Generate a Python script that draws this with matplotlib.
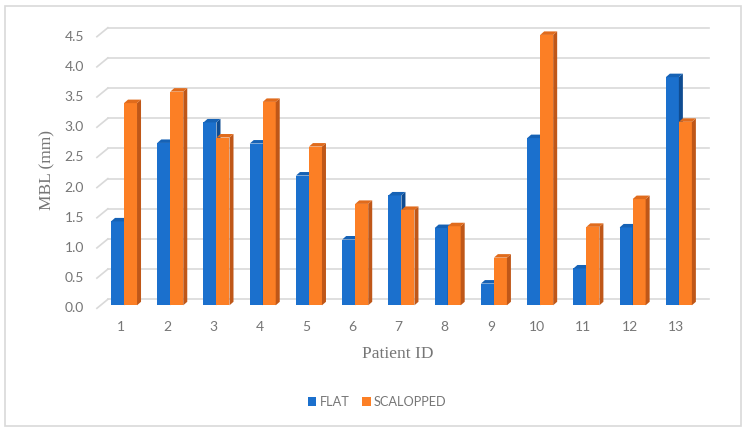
import matplotlib
matplotlib.use("Agg")
import matplotlib.pyplot as plt
from matplotlib.patches import Polygon, Rectangle
from matplotlib.lines import Line2D

patients = ["1", "2", "3", "4", "5", "6", "7", "8", "9", "10", "11", "12", "13"]
flat = [1.39, 2.69, 3.03, 2.68, 2.15, 1.09, 1.82, 1.28, 0.36, 2.77, 0.61, 1.29, 3.78]
scalopped = [3.35, 3.54, 2.78, 3.37, 2.63, 1.68, 1.58, 1.31, 0.79, 4.48, 1.30, 1.76, 3.04]
yticks = [0.0, 0.5, 1.0, 1.5, 2.0, 2.5, 3.0, 3.5, 4.0, 4.5]
series_names = ["FLAT", "SCALOPPED"]

W, H = 746, 432
DPI = 100
fig = plt.figure(figsize=(W / DPI, H / DPI), dpi=DPI)
fig.patch.set_facecolor("white")

# border
fig.add_artist(Rectangle((5 / W, 6 / H), 736 / W, 420 / H, transform=fig.transFigure,
                         fill=False, edgecolor="#D9D9D9", linewidth=1.2))

# axes = plane of bar front faces (pixels from top)
x_left_px, x_right_px = 100.9, 702.0
y0_px, ytop_px = 305.3, 33.7
ax = fig.add_axes([x_left_px / W, (H - y0_px) / H,
                   (x_right_px - x_left_px) / W, (y0_px - ytop_px) / H])
n = len(patients)
ax.set_xlim(0.5, n + 0.5)
ax.set_ylim(0, 4.5)
ax.axis("off")

px_x = (x_right_px - x_left_px) / n          # pixels per category
px_y = (y0_px - ytop_px) / 4.5               # pixels per value unit

def dx(p):
    return p / px_x

def dy(p):
    return p / px_y

grid_col = "#D9D9D9"
text_col = "#767676"
sans = ["Lato", "DejaVu Sans"]

# gridlines: front plane offset (-4, +3px down), back plane offset (+7, -6px up)
fx, fy = -4.0, -3.0
bx, by = 7.0, 6.0
for v in yticks:
    ax.add_line(Line2D([0.5 + dx(fx), 0.5 + dx(bx)], [v + dy(fy), v + dy(by)],
                       color=grid_col, lw=1.2, clip_on=False, zorder=1))
    ax.add_line(Line2D([0.5 + dx(bx), n + 0.5 + dx(bx)], [v + dy(by), v + dy(by)],
                       color=grid_col, lw=1.2, clip_on=False, zorder=1))
    ax.text(0.5 + dx(fx) - dx(13), v + dy(fy), f"{v:.1f}", ha="right", va="center",
            fontsize=10, color=text_col, family=sans)

for i, lab in enumerate(patients):
    ax.text(i + 1 + dx(-3), dy(-22), lab, ha="center", va="center",
            fontsize=10, color=text_col, family=sans)

bw = 13.0 / px_x
depx, depy = 4.0, 3.5
styles = [
    ("#1B70CD", "#0F4C91", "#1662B5"),
    ("#FC7F25", "#BF5718", "#E06B1C"),
]
xs = list(range(1, n + 1))
for s, (vals, (front, side, top)) in enumerate(zip([flat, scalopped], styles)):
    lefts = [x - bw + s * bw for x in xs]
    ax.bar(lefts, vals, width=bw, align="edge", color=front, linewidth=0, zorder=3 + s)
    for l, v in zip(lefts, vals):
        r = l + bw
        ax.add_patch(Polygon([(r, 0), (r + dx(depx), dy(depy)), (r + dx(depx), v + dy(depy)), (r, v)],
                             closed=True, facecolor=side, edgecolor="none", zorder=3 + s, clip_on=False))
        ax.add_patch(Polygon([(l, v), (r, v), (r + dx(depx), v + dy(depy)), (l + dx(depx), v + dy(depy))],
                             closed=True, facecolor=top, edgecolor="none", zorder=3 + s, clip_on=False))

serif = ["Liberation Serif", "DejaVu Serif"]
fig.text(398 / W, 1 - 354 / H, "Patient ID", ha="center", va="center",
         fontsize=12.5, color=text_col, family=serif)
fig.text(47 / W, 1 - 170 / H, "MBL (mm)", ha="center", va="center", rotation=90,
         fontsize=12.5, color=text_col, family=serif)

# legend
for (x_sq, x_tx, name, (front, _, _)) in [(307.5, 320, series_names[0], styles[0]),
                                          (362, 374, series_names[1], styles[1])]:
    fig.add_artist(Rectangle((x_sq / W, 1 - 405.5 / H), 8.5 / W, 8.5 / H,
                             transform=fig.transFigure, facecolor=front, edgecolor="none"))
    fig.text(x_tx / W, 1 - 401.5 / H, name, ha="left", va="center",
             fontsize=9.2, color=text_col, family=sans)

fig.savefig("out.png", dpi=DPI, facecolor="white")
